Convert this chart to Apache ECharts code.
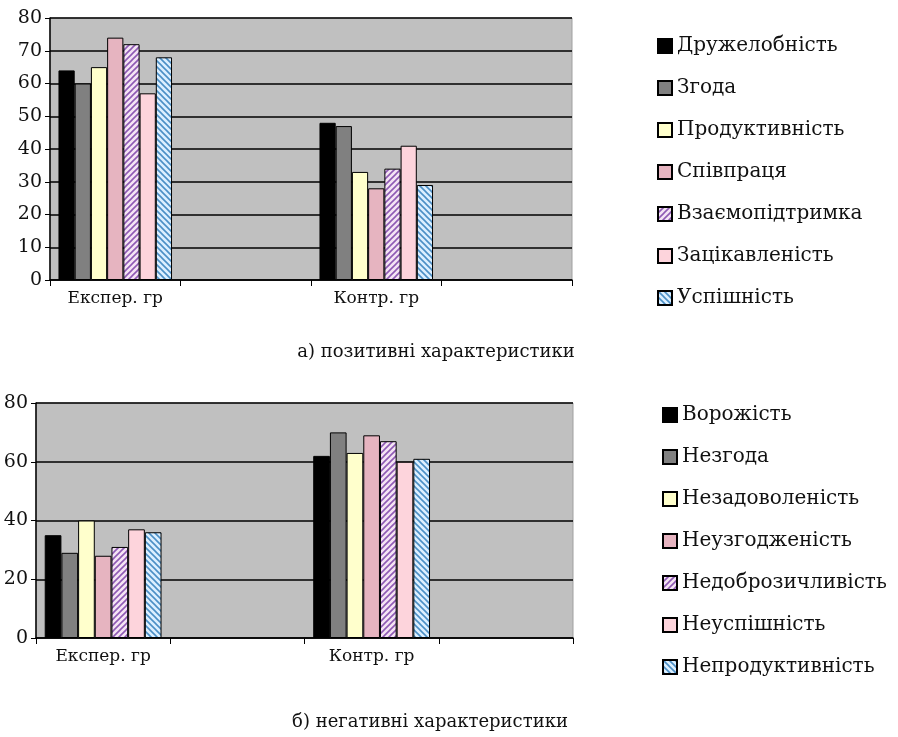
<!DOCTYPE html>
<html>
<head>
<meta charset="utf-8">
<script src="https://cdn.jsdelivr.net/npm/echarts@6/dist/echarts.min.js"></script>
<style>
html,body{margin:0;padding:0;background:#fff;}
#c{width:898px;height:737px;}
</style>
</head>
<body>
<div id="c"></div>
<script>
// ---- data ----
const categories = ['Експер. гр', '', 'Контр. гр', ''];
const posNames = ['Дружелобність', 'Згода', 'Продуктивність', 'Співпраця', 'Взаємопідтримка', 'Зацікавленість', 'Успішність'];
const posExp  = [64, 60, 65, 74, 72, 57, 68];
const posCtrl = [48, 47, 33, 28, 34, 41, 29];
const negNames = ['Ворожість', 'Незгода', 'Незадоволеність', 'Неузгодженість', 'Недоброзичливість', 'Неуспішність', 'Непродуктивність'];
const negExp  = [35, 29, 40, 28, 31, 37, 36];
const negCtrl = [62, 70, 63, 69, 67, 60, 61];
const posTicks = [0, 10, 20, 30, 40, 50, 60, 70, 80];
const negTicks = [0, 20, 40, 60, 80];
const captions = ['а) позитивні характеристики', 'б) негативні характеристики'];

// ---- patterns ----
function stripe(bg, fg, dir) {
  const c = document.createElement('canvas');
  c.width = 6; c.height = 6;
  const g = c.getContext('2d');
  g.fillStyle = bg; g.fillRect(0, 0, 6, 6);
  g.strokeStyle = fg; g.lineWidth = 1.6;
  g.beginPath();
  if (dir > 0) {
    g.moveTo(0, 6); g.lineTo(6, 0);
    g.moveTo(-3, 3); g.lineTo(3, -3);
    g.moveTo(3, 9); g.lineTo(9, 3);
  } else {
    g.moveTo(0, 0); g.lineTo(6, 6);
    g.moveTo(-3, 3); g.lineTo(3, 9);
    g.moveTo(3, -3); g.lineTo(9, 3);
  }
  g.stroke();
  return { image: c, repeat: 'repeat' };
}
const fills = [
  '#000000',
  '#808080',
  '#ffffcc',
  '#e6b4c0',
  stripe('#f4e4f4', '#8e5ab4', 1),
  '#fdd4dc',
  stripe('#dcefff', '#4b8fc6', -1)
];

const serif = 'DejaVu Serif';

function makeSeries(names, exp, ctrl, idx) {
  return names.map((n, i) => ({
    name: n,
    type: 'bar',
    xAxisIndex: idx,
    yAxisIndex: idx,
    data: [exp[i], null, ctrl[i], null],
    barGap: '0%',
    barCategoryGap: '13%',
    itemStyle: { color: fills[i], borderColor: '#000', borderWidth: 1 },
    emphasis: { disabled: true },
    animation: false
  }));
}

function xAxis(idx) {
  return {
    type: 'category', gridIndex: idx, data: categories,
    axisLine: { lineStyle: { color: '#000', width: 1.5 } },
    axisTick: { show: true, alignWithLabel: false, length: 6, lineStyle: { color: '#000' } },
    axisLabel: { color: '#111', fontFamily: serif, fontSize: 17, margin: 10 }
  };
}
function yAxis(idx, ticks, interval) {
  return {
    type: 'value', gridIndex: idx, min: ticks[0], max: ticks[ticks.length - 1], interval: interval,
    axisLine: { show: true, lineStyle: { color: '#000', width: 1.5 } },
    axisTick: { show: true, length: 5, lineStyle: { color: '#000' } },
    axisLabel: { color: '#111', fontFamily: serif, fontSize: 19, margin: 8 },
    splitLine: { show: true, lineStyle: { color: '#000', width: 1.5 } }
  };
}

const chart = echarts.init(document.getElementById('c'));
chart.setOption({
  animation: false,
  grid: [
    { left: 50, top: 18, width: 522, height: 262, show: true, backgroundColor: '#c0c0c0', borderColor: '#a0a0a0', borderWidth: 1 },
    { left: 36, top: 403, width: 537, height: 235, show: true, backgroundColor: '#c0c0c0', borderColor: '#a0a0a0', borderWidth: 1 }
  ],
  xAxis: [xAxis(0), xAxis(1)],
  yAxis: [yAxis(0, posTicks, 10), yAxis(1, negTicks, 20)],
  legend: [
    { data: posNames, orient: 'vertical', left: 652, top: 30, itemWidth: 14, itemHeight: 14, itemGap: 20,
      icon: 'rect', selectedMode: false,
      textStyle: { fontFamily: serif, fontSize: 20, color: '#111', lineHeight: 22 } },
    { data: negNames, orient: 'vertical', left: 657, top: 399, itemWidth: 14, itemHeight: 14, itemGap: 20,
      icon: 'rect', selectedMode: false,
      textStyle: { fontFamily: serif, fontSize: 20, color: '#111', lineHeight: 22 } }
  ],
  graphic: [
    { type: 'text', x: 436, y: 352, style: { text: captions[0], fill: '#111', font: '18px "DejaVu Serif"', textAlign: 'center', textVerticalAlign: 'middle' } },
    { type: 'text', x: 430, y: 722, style: { text: captions[1], fill: '#111', font: '18px "DejaVu Serif"', textAlign: 'center', textVerticalAlign: 'middle' } }
  ],
  series: makeSeries(posNames, posExp, posCtrl, 0).concat(makeSeries(negNames, negExp, negCtrl, 1))
});
</script>
</body>
</html>
